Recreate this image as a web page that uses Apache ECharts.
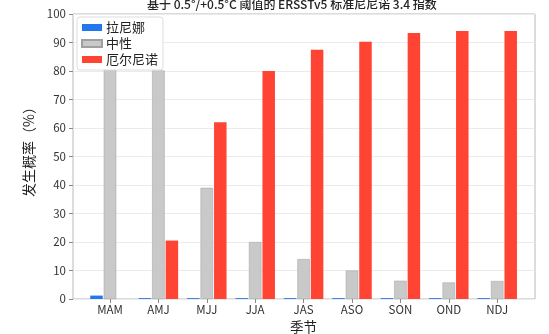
<!DOCTYPE html>
<html>
<head>
<meta charset="utf-8">
<script src="https://cdn.jsdelivr.net/npm/echarts@6/dist/echarts.min.js"></script>
<style>
  html, body { margin: 0; padding: 0; background: #fff; }
  #chart { width: 549px; height: 334px; }
</style>
</head>
<body>
<div id="chart"></div>
<script>
// Seasons (three-month windows)
const seasons = ['MAM', 'AMJ', 'MJJ', 'JJA', 'JAS', 'ASO', 'SON', 'OND', 'NDJ'];
// Probability of each ENSO phase (%)
const laNina = [1.2, 0.3, 0.3, 0.3, 0.3, 0.3, 0.3, 0.3, 0.3];
const neutral = [80.5, 80.2, 39, 20, 14, 10, 6.4, 5.8, 6.3];
const elNino = [0, 20.5, 62, 80, 87.5, 90.3, 93.3, 94, 94];
const yTicks = [0, 10, 20, 30, 40, 50, 60, 70, 80, 90, 100];

const FONT = 'Noto Sans CJK SC';
const chart = echarts.init(document.getElementById('chart'));

chart.setOption({
  animation: false,
  textStyle: { fontFamily: FONT },
  title: {
    text: '基于 0.5°/+0.5°C 阈值的 ERSSTv5 标准尼尼诺 3.4 指数',
    left: 142, top: -7,
    textStyle: { fontFamily: FONT, fontSize: 12, fontWeight: 500, color: '#222' }
  },
  legend: {
    orient: 'vertical',
    left: 77, top: 17,
    icon: 'rect',
    itemWidth: 20, itemHeight: 7, itemGap: 3,
    padding: [4, 5, 4, 4],
    borderColor: '#ddd', borderWidth: 1, borderRadius: 3,
    backgroundColor: '#fff',
    textStyle: { fontFamily: FONT, fontSize: 13, color: '#222', padding: [0, 0, 0, -1] },
    data: ['拉尼娜', '中性', '厄尔尼诺']
  },
  grid: [
    // frame with horizontal gridlines
    { left: 73, right: 14, top: 14, bottom: 35, outerBoundsMode: 'none', containLabel: false,
      show: true, borderColor: '#b8b8b8', borderWidth: 1, backgroundColor: 'transparent' },
    // bar area
    { left: 85.8, width: 435.6, top: 14, bottom: 35, outerBoundsMode: 'none', containLabel: false }
  ],
  xAxis: [
    { gridIndex: 0, type: 'value', min: 0, max: 1, show: false },
    {
      gridIndex: 1, type: 'category', data: seasons,
      name: '季节', nameLocation: 'middle', nameGap: 19,
      nameTextStyle: { fontFamily: FONT, fontSize: 13.5, color: '#222' },
      axisLine: { show: false },
      axisTick: { show: true, alignWithLabel: true, length: 4, lineStyle: { color: '#888' } },
      axisLabel: { fontFamily: FONT, fontSize: 11.5, color: '#333', margin: 5 }
    }
  ],
  yAxis: [
    {
      gridIndex: 0, type: 'value', min: 0, max: 100, interval: 10,
      name: '发生概率（%）', nameLocation: 'middle', nameGap: 37,
      nameTextStyle: { fontFamily: FONT, fontSize: 14, color: '#222', padding: [0, 0, 0, 16] },
      axisLine: { show: false },
      axisTick: { show: true, length: 4, lineStyle: { color: '#888' } },
      axisLabel: {
        fontFamily: FONT, fontSize: 11.5, color: '#333', margin: 7,
        formatter: v => (yTicks.includes(v) ? String(v) : '')
      },
      splitLine: { show: true, lineStyle: { color: '#ebebeb', width: 1 } }
    },
    { gridIndex: 1, type: 'value', min: 0, max: 100, show: false }
  ],
  series: [
    {
      name: '拉尼娜', type: 'bar', xAxisIndex: 1, yAxisIndex: 1,
      data: laNina, barWidth: 12.5, barGap: '8%',
      itemStyle: { color: '#2277ee' }
    },
    {
      name: '中性', type: 'bar', xAxisIndex: 1, yAxisIndex: 1,
      data: neutral, barWidth: 12.5, barGap: '8%',
      itemStyle: { color: '#c9c9c9', borderColor: '#a0a0a0', borderWidth: 0.5 }
    },
    {
      name: '厄尔尼诺', type: 'bar', xAxisIndex: 1, yAxisIndex: 1,
      data: elNino, barWidth: 12.5, barGap: '8%',
      itemStyle: { color: '#ff4433' }
    }
  ]
});
</script>
</body>
</html>
